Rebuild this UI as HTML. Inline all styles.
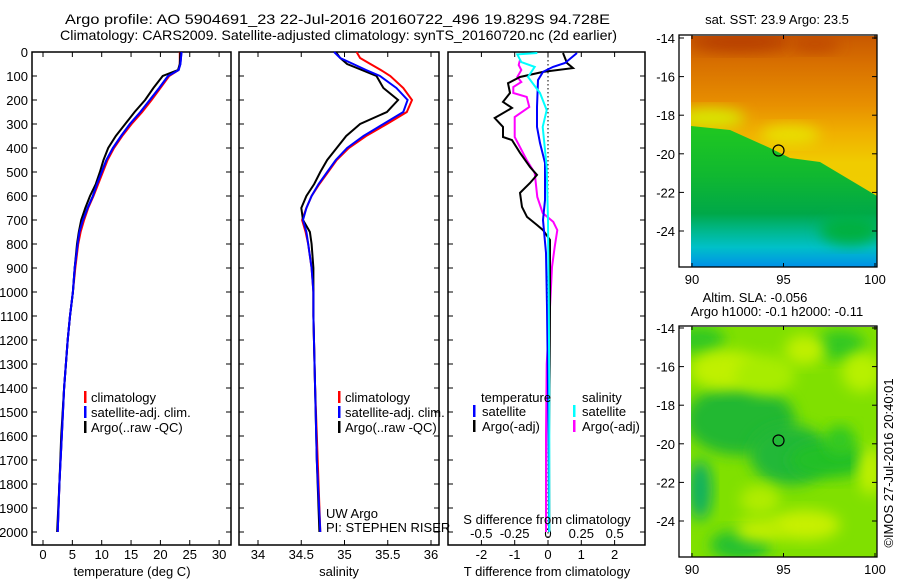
<!DOCTYPE html>
<html><head><meta charset="utf-8"><style>
html,body{margin:0;padding:0;background:#fff;}
svg{display:block;font-family:"Liberation Sans",sans-serif;}
</style></head><body>
<svg id="fig" width="900" height="580" viewBox="0 0 900 580" xmlns="http://www.w3.org/2000/svg">
<defs>
<linearGradient id="sstTop" x1="0" y1="0" x2="0" y2="1">
<stop offset="0" stop-color="#c85800"/><stop offset="0.12" stop-color="#d87000"/><stop offset="0.3" stop-color="#e89000"/><stop offset="0.42" stop-color="#f0b000"/><stop offset="0.55" stop-color="#f0cc00"/><stop offset="1" stop-color="#f0d000"/>
</linearGradient>
<linearGradient id="sstBot" x1="0" y1="0" x2="0" y2="1">
<stop offset="0" stop-color="#20c820"/><stop offset="0.35" stop-color="#10b830"/><stop offset="0.62" stop-color="#00a848"/><stop offset="0.75" stop-color="#00b890"/><stop offset="0.86" stop-color="#00c0c8"/><stop offset="1" stop-color="#0090e8"/>
</linearGradient>
<filter id="blur" x="-30%" y="-30%" width="160%" height="160%"><feGaussianBlur stdDeviation="7"/></filter>
<clipPath id="clip1"><rect x="691" y="36" width="186" height="231"/></clipPath>
<clipPath id="clip2"><rect x="691" y="327" width="186" height="230"/></clipPath>
</defs>
<text x="65" y="24" font-size="14" textLength="545" lengthAdjust="spacingAndGlyphs">Argo profile: AO 5904691_23 22-Jul-2016 20160722_496 19.829S 94.728E</text>
<text x="60" y="40" font-size="14" textLength="557" lengthAdjust="spacingAndGlyphs">Climatology: CARS2009. Satellite-adjusted climatology: synTS_20160720.nc (2d earlier)</text>
<g id="panels"></g>
<g id="maps"></g>
</svg>
<script>
// ---- data ----
const tDepth = [0,50,75,100,150,200,250,300,350,400,450,500,550,600,650,700,750,800,900,1000,1100,1200,1400,1600,1800,2000];
const tArgo = [23.4,23.3,23.0,20.4,18.8,17.4,15.6,14.0,12.4,11.1,10.3,9.7,9.0,8.0,7.2,6.5,6.1,5.8,5.4,5.1,4.6,4.2,3.6,3.1,2.8,2.4];
const tSat = [23.6,23.4,23.1,21.3,19.8,18.2,16.6,14.8,13.3,11.9,10.8,10.0,9.2,8.5,7.6,6.8,6.2,5.9,5.4,5.1,4.6,4.2,3.6,3.2,2.8,2.5];
const tClim = [23.3,23.3,23.1,21.5,20.0,18.5,16.9,15.1,13.5,12.1,11.0,10.2,9.4,8.6,7.7,7.0,6.4,6.0,5.5,5.1,4.6,4.2,3.6,3.2,2.8,2.5];
const sDepth = [0,25,50,75,100,150,200,250,300,350,400,450,500,550,600,650,700,750,800,900,1000,1100,1400,1700,2000];
const sArgo = [34.9,34.95,35.03,35.2,35.37,35.45,35.62,35.49,35.18,35.02,34.91,34.8,34.72,34.65,34.56,34.5,34.52,34.6,34.62,34.64,34.64,34.64,34.66,34.68,34.71];
const sSat = [34.88,34.95,35.1,35.25,35.41,35.6,35.73,35.68,35.45,35.22,35.03,34.9,34.8,34.7,34.62,34.56,34.52,34.56,34.58,34.62,34.64,34.64,34.66,34.68,34.72];
const sClim = [35.14,35.18,35.3,35.42,35.53,35.68,35.78,35.72,35.49,35.25,35.05,34.91,34.81,34.71,34.62,34.56,34.51,34.55,34.58,34.62,34.64,34.64,34.66,34.69,34.72];
const dtArgoDepth = [4,46,67,83,104,130,171,208,233,275,312,354,367,420,479,512,546,587,646,687,721,742,783,1062,1300,1600,2000];
const dtArgo = [0.45,0.57,0.75,-0.15,-0.84,-1.2,-1.14,-1.35,-1.08,-1.6,-1.35,-1.35,-1.08,-0.84,-0.54,-0.33,-0.54,-0.84,-0.78,-0.63,-0.33,-0.15,0.06,0.06,0.05,0.03,0.04];
const dtSatDepth = [4,46,62,83,117,229,312,379,462,617,700,837,1062,1400,1700,2000];
const dtSat = [0.87,0.51,0.15,-0.15,-0.3,-0.33,-0.33,-0.24,-0.09,-0.09,-0.15,-0.06,-0.03,0.0,0.02,0.03];
const dsSatDepth = [4,10,42,62,104,171,242,312,479,700,1000,1400,2000];
const dsSat = [-0.08,-0.23,-0.2,-0.1,-0.15,-0.06,-0.01,-0.04,-0.01,0.0,0.005,0.01,0.01];
const dsArgoDepth = [33,54,75,104,125,146,171,187,229,271,354,450,504,604,671,708,742,812,896,1062,1300,1600,2000];
const dsArgo = [-0.21,-0.22,-0.2,-0.23,-0.2,-0.26,-0.26,-0.16,-0.14,-0.25,-0.25,-0.16,-0.1,-0.08,-0.04,0.04,0.07,0.05,0.03,0.015,-0.01,-0.015,-0.015];
const depthTicks = [0,100,200,300,400,500,600,700,800,900,1000,1100,1200,1300,1400,1500,1600,1700,1800,1900,2000];
const tTicks = [0,5,10,15,20,25,30];
const sTicks = [34,34.5,35,35.5,36];
const sTickLabels = ["34","34.5","35","35.5","36"];
const dTTicks = [-2,-1,0,1,2];
const dSTicks = [-0.5,-0.25,0,0.25,0.5];
const dSTickLabels = ["-0.5","-0.25","0","0.25","0.5"];
const latTicks = [-14,-16,-18,-20,-22,-24];
const lonTicks = [90,95,100];
const argoLon = 94.728, argoLat = -19.829;

// ---- scales ----
const NS="http://www.w3.org/2000/svg";
const yD = d => 52 + d*0.24;
const xT = t => 43 + t*5.87;
const xS = s => 258 + (s-34)*86.5;
const xDT = t => 548 + t*33.3;
const xDS = s => 548 + s*133.3;
const lonX = l => 692 + (l-90)*18.3;
const latY1 = l => 38 + (-14-l)*19.3;
const latY2 = l => 328 + (-14-l)*19.3;

function el(tag, attrs, parent, txt){
  const e=document.createElementNS(NS,tag);
  for(const k in attrs) e.setAttribute(k,attrs[k]);
  if(txt!==undefined) e.textContent=txt;
  parent.appendChild(e); return e;
}
const P=document.getElementById('panels');
const M=document.getElementById('maps');

function line(xs, ds, xf, color, name){
  const d = xs.map((v,i)=>(i?'L':'M')+xf(v).toFixed(1)+' '+yD(ds[i]).toFixed(1)).join(' ');
  const p=el('path',{d:d,fill:'none',stroke:color,'stroke-width':2,'stroke-linejoin':'miter'},P);
  
  
}
function frame(x0,x1,name){
  const r=el('rect',{x:x0,y:52,width:x1-x0,height:493,fill:'none',stroke:'#000','stroke-width':1.5},P);
  
  
  depthTicks.forEach(d=>{
    el('line',{x1:x0,x2:x0+5,y1:yD(d),y2:yD(d),stroke:'#000'},P);
    el('line',{x1:x1-5,x2:x1,y1:yD(d),y2:yD(d),stroke:'#000'},P);
  });
}
function xticks(vals, labels, xf, name){
  vals.forEach((v,i)=>{
    el('line',{x1:xf(v),x2:xf(v),y1:545,y2:540,stroke:'#000'},P);
    el('line',{x1:xf(v),x2:xf(v),y1:52,y2:57,stroke:'#000'},P);
    const t=el('text',{x:xf(v),y:559,'font-size':13,'text-anchor':'middle'},P,labels[i]);
    
    
  });
}
// panel 1
frame(32,231,'temperature-panel');
depthTicks.forEach(d=>{
  const t=el('text',{x:28,y:yD(d)+5,'font-size':13,'text-anchor':'end'},P,String(d));
  
  
});
xticks(tTicks, tTicks.map(String), xT, 'temperature-tick-label');
line(tClim,tDepth,xT,'#ff0000','temp-climatology-line');
line(tSat,tDepth,xT,'#0000ff','temp-satellite-line');
line(tArgo,tDepth,xT,'#000000','temp-argo-line');
line(tSat,tDepth,xT,'#0000ff','temp-satellite-line-top');
// panel 2
frame(239,439,'salinity-panel');
xticks(sTicks, sTickLabels, xS, 'salinity-tick-label');
line(sClim,sDepth,xS,'#ff0000','sal-climatology-line');
line(sArgo,sDepth,xS,'#000000','sal-argo-line');
line(sSat,sDepth,xS,'#0000ff','sal-satellite-line');
// panel 3
frame(448,645,'difference-panel');
dTTicks.forEach(v=>{
  el('line',{x1:xDT(v),x2:xDT(v),y1:545,y2:540,stroke:'#000'},P);
  el('line',{x1:xDT(v),x2:xDT(v),y1:52,y2:57,stroke:'#000'},P);
  const t=el('text',{x:xDT(v),y:559,'font-size':13,'text-anchor':'middle'},P,String(v));
  
  
});
dSTicks.forEach((v,i)=>{
  const t=el('text',{x:xDS(v),y:538,'font-size':13,'text-anchor':'middle'},P,dSTickLabels[i]);
  
  
});
el('line',{x1:548,x2:548,y1:52,y2:545,stroke:'#000','stroke-dasharray':'1.5 2.5'},P);
line(dsArgo,dsArgoDepth,xDS,'#ff00ff','sdiff-argo-line');
line(dtArgo,dtArgoDepth,xDT,'#000000','tdiff-argo-line');
line(dtSat,dtSatDepth,xDT,'#0000ff','tdiff-satellite-line');
line(dsSat,dsSatDepth,xDS,'#00ffff','sdiff-satellite-line');

// labels & legends (static)
const lab=[["temperature (deg C)",132,576,"temperature-axis-title","middle"],["salinity",339,576,"salinity-axis-title","middle"],["T difference from climatology",547,576,"tdiff-axis-title","middle"],["S difference from climatology",547,524,"sdiff-axis-title","middle"],
["climatology",91,402,"legend-climatology","start"],["satellite-adj. clim.",91,417,"legend-satellite","start"],["Argo(..raw -QC)",91,432,"legend-argo","start"],
["climatology",345,402,"legend-climatology-2","start"],["satellite-adj. clim.",345,417,"legend-satellite-2","start"],["Argo(..raw -QC)",345,432,"legend-argo-2","start"],
["temperature",481,402,"legend-temperature-heading","start"],["satellite",482,416,"legend-temp-satellite","start"],["Argo(-adj)",482,431,"legend-temp-argo","start"],
["salinity",582,402,"legend-salinity-heading","start"],["satellite",582,416,"legend-sal-satellite","start"],["Argo(-adj)",582,431,"legend-sal-argo","start"],
["UW Argo",326,518,"uw-argo-credit","start"],["PI: STEPHEN RISER",326,532,"pi-credit","start"]];
lab.forEach(a=>{
  const t=el('text',{x:a[1],y:a[2],'font-size':13,'text-anchor':a[4]},P,a[0]);
  
  
});
const marks=[[85,397,'#ff0000'],[85,412,'#0000ff'],[85,427,'#000'],[339,397,'#ff0000'],[339,412,'#0000ff'],[339,427,'#000'],[474,411,'#0000ff'],[474,426,'#000'],[574,411,'#00ffff'],[574,426,'#ff00ff']];
marks.forEach(m=>{
  const r=el('rect',{x:m[0]-1,y:m[1]-6,width:2.5,height:12,fill:m[2]},P);
  
  
});

// ---- maps ----
function mapAxes(y0,y1,latY,name){
  const r=el('rect',{x:679,y:y0,width:198,height:y1-y0,fill:'none',stroke:'#000','stroke-width':1.3},M);
  
  
  latTicks.forEach(l=>{
    el('line',{x1:679,x2:684,y1:latY(l),y2:latY(l),stroke:'#000'},M);
    el('line',{x1:872,x2:877,y1:latY(l),y2:latY(l),stroke:'#000'},M);
    const t=el('text',{x:675,y:latY(l)+5,'font-size':13,'text-anchor':'end'},M,String(l));
    
    
  });
  lonTicks.forEach(l=>{
    el('line',{x1:lonX(l),x2:lonX(l),y1:y0,y2:y0+4,stroke:'#000'},M);
    el('line',{x1:lonX(l),x2:lonX(l),y1:y1,y2:y1-4,stroke:'#000'},M);
    const t=el('text',{x:lonX(l),y:y1+17,'font-size':13,'text-anchor':'middle'},M,String(l));
    
    
  });
}
// SST map
const g1=el('g',{'clip-path':'url(#clip1)'},M);


el('rect',{x:691,y:36,width:186,height:231,fill:'url(#sstTop)'},g1);
el('ellipse',{cx:740,cy:42,rx:50,ry:10,fill:'#b84000',filter:'url(#blur)'},g1);
el('ellipse',{cx:815,cy:44,rx:25,ry:8,fill:'#c04800',filter:'url(#blur)'},g1);
el('ellipse',{cx:710,cy:118,rx:35,ry:10,fill:'#d8e800',filter:'url(#blur)'},g1);
el('ellipse',{cx:790,cy:135,rx:30,ry:10,fill:'#e8e000',filter:'url(#blur)'},g1);
el('polygon',{points:'691,126 730,130 770,148 790,158 820,162 877,196 877,267 691,267',fill:'url(#sstBot)'},g1);
el('ellipse',{cx:850,cy:230,rx:30,ry:15,fill:'#00b040',filter:'url(#blur)'},g1);
mapAxes(35,267,latY1,'sst-map-frame');
el('circle',{cx:lonX(argoLon),cy:latY1(argoLat),r:5.5,fill:'none',stroke:'#000','stroke-width':1.2},M);
el('text',{x:777,y:24,'font-size':13,'text-anchor':'middle',},M,'sat. SST: 23.9 Argo: 23.5');
// SLA map
const g2=el('g',{'clip-path':'url(#clip2)'},M);


el('rect',{x:691,y:327,width:186,height:230,fill:'#80e000'},g2);
const blobs=[[700,340,25,14,'#30c820'],[740,420,55,35,'#20b830'],[790,455,40,30,'#20b838'],[830,460,40,18,'#20c028'],[725,370,35,20,'#c0f000'],[765,375,30,20,'#a8ec00'],[840,345,25,15,'#30c820'],[862,372,20,20,'#b8f000'],[840,440,15,15,'#30c820'],[740,545,30,15,'#20c030'],[805,525,35,15,'#c8f000'],[760,530,25,12,'#c0ee00'],[700,490,12,30,'#10b060'],[870,470,12,25,'#c0f000'],[805,350,20,15,'#c0f000'],[760,500,20,15,'#b0ec00']];
blobs.forEach(b=>el('ellipse',{cx:b[0],cy:b[1],rx:b[2],ry:b[3],fill:b[4],filter:'url(#blur)'},g2));
mapAxes(326,557,latY2,'sla-map-frame');
el('circle',{cx:lonX(argoLon),cy:latY2(argoLat),r:5.5,fill:'none',stroke:'#000','stroke-width':1.2},M);
el('text',{x:755,y:302,'font-size':13,'text-anchor':'middle',},M,'Altim. SLA: -0.056');
el('text',{x:777,y:316,'font-size':13,'text-anchor':'middle',},M,'Argo h1000: -0.1 h2000: -0.11');
el('text',{x:0,y:0,'font-size':13,'text-anchor':'middle',transform:'translate(893,463) rotate(-90)',},M,'©IMOS 27-Jul-2016 20:40:01');
</script>
</body></html>
